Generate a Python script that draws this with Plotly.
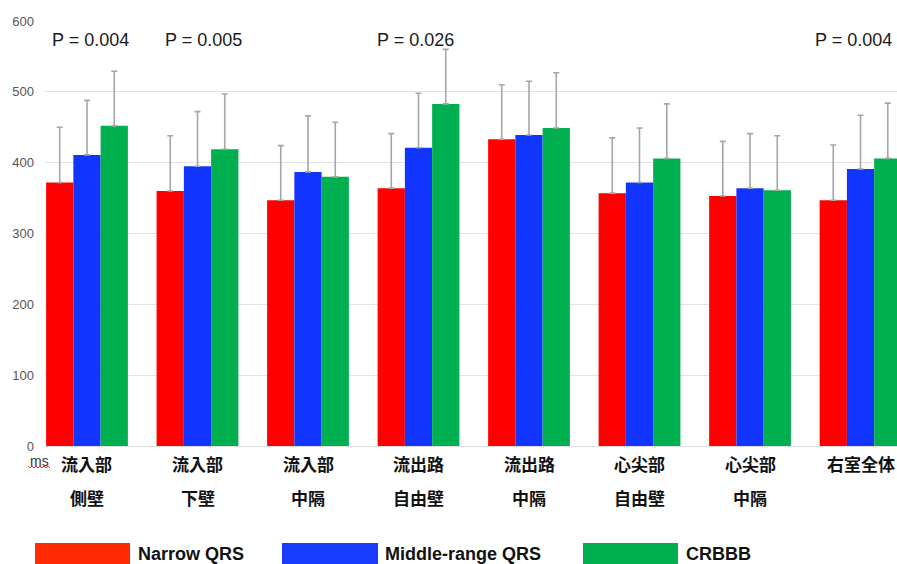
import plotly.graph_objects as go

# Regional activation times (ms) by QRS group, mean and SD
categories = ["流入部<br>側壁", "流入部<br>下壁", "流入部<br>中隔", "流出路<br>自由壁",
              "流出路<br>中隔", "心尖部<br>自由壁", "心尖部<br>中隔", "右室全体"]
label_line1 = ["流入部", "流入部", "流入部", "流出路", "流出路", "心尖部", "心尖部", "右室全体"]
label_line2 = ["側壁", "下壁", "中隔", "自由壁", "中隔", "自由壁", "中隔", ""]

narrow_mean = [372, 360, 347, 364, 433, 357, 353, 347]
middle_mean = [411, 395, 387, 421, 439, 372, 364, 391]
crbbb_mean = [452, 419, 380, 483, 449, 406, 361, 406]

narrow_sd = [78, 78, 77, 77, 77, 78, 77, 78]
middle_sd = [77, 77, 79, 77, 76, 77, 77, 76]
crbbb_sd = [77, 78, 77, 77, 78, 77, 77, 78]

p_values = {0: "P = 0.004", 1: "P = 0.005", 3: "P = 0.026", 7: "P = 0.004"}
p_xshift = {0: 4, 1: 6, 3: -3, 7: -7}

series = [
    ("Narrow QRS", narrow_mean, narrow_sd, "#ff0000", "#ff2a00"),
    ("Middle-range QRS", middle_mean, middle_sd, "#1234ff", "#1a3cff"),
    ("CRBBB", crbbb_mean, crbbb_sd, "#00b050", "#00b050"),
]

# Pixel helpers for the plot area (45..897 wide, 21..446 tall)
PLOT_L, PLOT_W, PLOT_B, PLOT_H = 45, 852, 446, 425


def px_x(px):
    return (px - PLOT_L) / PLOT_W


def px_y(py):
    return (PLOT_B - py) / PLOT_H


fig = go.Figure()
for name, mean, sd, color, _ in series:
    fig.add_trace(go.Bar(
        x=categories, y=mean, name=name,
        marker=dict(color=color, line=dict(width=0)),
        error_y=dict(type="data", symmetric=False, array=sd, arrayminus=[0] * len(sd),
                     color="#a6a6a6", thickness=1.6, width=3),
        showlegend=False,
    ))

annotations = []
label_font = dict(family="Noto Sans CJK JP", size=17, color="#111111")
# Two-line category labels under each group
for i, (l1, l2) in enumerate(zip(label_line1, label_line2)):
    annotations.append(dict(x=categories[i], y=px_y(463), xref="x", yref="paper",
                            text="<b>" + l1 + "</b>", showarrow=False, yanchor="middle",
                            font=label_font))
    if l2:
        annotations.append(dict(x=categories[i], y=px_y(497), xref="x", yref="paper",
                                text="<b>" + l2 + "</b>", showarrow=False, yanchor="middle",
                                font=label_font))

# P-values above the significant groups
for i, txt in p_values.items():
    annotations.append(dict(x=categories[i], y=573, xref="x", yref="y", text=txt,
                            showarrow=False, xshift=p_xshift[i],
                            font=dict(family="Liberation Sans, Arial", size=18, color="#1a1a1a")))

# Unit label
annotations.append(dict(x=px_x(51), y=px_y(461), xref="paper", yref="paper", text="ms",
                        showarrow=False, xanchor="right", yanchor="middle",
                        font=dict(family="Liberation Sans, Arial", size=14, color="#333333")))

# Legend drawn as large swatches with labels at the bottom
shapes = []
legend_x = [(35, 130, 136), (282, 378, 383), (583, 678, 684)]
for (name, _, _, _, swatch), (x0, x1, tx) in zip(series, legend_x):
    shapes.append(dict(type="rect", xref="paper", yref="paper",
                       x0=px_x(x0), x1=px_x(x1), y0=px_y(566), y1=px_y(543),
                       fillcolor=swatch, line=dict(width=0), layer="above"))
    annotations.append(dict(x=px_x(tx), y=px_y(554), xref="paper", yref="paper",
                            text="<b>" + name + "</b>", showarrow=False,
                            xanchor="left", yanchor="middle",
                            font=dict(family="Liberation Sans Narrow, Liberation Sans, Arial",
                                      size=18, color="#111111")))

# Spell-check style squiggle under the unit label
sq_pts = [(28 + 2 * k, 466 + (2 if k % 2 else 0)) for k in range(12)]
for (xa, ya), (xb, yb) in zip(sq_pts[:-1], sq_pts[1:]):
    shapes.append(dict(type="line", xref="paper", yref="paper",
                       x0=px_x(xa), x1=px_x(xb), y0=px_y(ya), y1=px_y(yb),
                       line=dict(color="#e03030", width=1)))

fig.update_layout(
    width=897, height=564,
    margin=dict(l=45, r=0, t=21, b=118),
    paper_bgcolor="white", plot_bgcolor="white",
    barmode="group", bargap=0.26, bargroupgap=0,
    xaxis=dict(range=[-0.38, 7.33], showticklabels=False, showgrid=False,
               zeroline=False, showline=False, fixedrange=True),
    yaxis=dict(range=[0, 600], dtick=100, showgrid=True, gridcolor="#e3e3e3",
               gridwidth=1, zeroline=True, zerolinecolor="#dddddd", zerolinewidth=1,
               tickfont=dict(family="Liberation Sans, Arial", size=13, color="#555555"),
               ticklabelstandoff=10, showline=False),
    annotations=annotations,
    shapes=shapes,
    font=dict(family="Liberation Sans, Arial"),
)

fig.write_html("out.html")
